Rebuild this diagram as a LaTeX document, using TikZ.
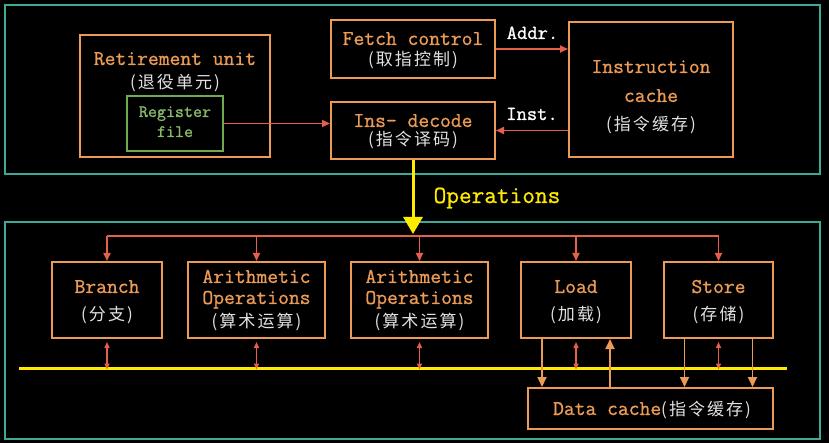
\documentclass[tikz,border=0pt]{standalone}
\usepackage{fontspec}
\newfontfamily\cjkf{Noto Sans CJK SC}[LetterSpace=12]
\usetikzlibrary{arrows.meta}
\definecolor{tealc}{RGB}{60,170,150}
\definecolor{orng}{RGB}{235,155,85}
\definecolor{redc}{RGB}{230,95,75}
\definecolor{yelc}{RGB}{255,235,0}
\definecolor{grnc}{RGB}{110,170,80}
\definecolor{grnt}{RGB}{135,185,105}
\definecolor{zhc}{RGB}{225,225,225}
\newcommand\heavytxt[1]{\special{pdf:literal direct 2 Tr 0.22 w}#1\special{pdf:literal direct 0 Tr}}
\begin{document}
\begin{tikzpicture}[x=1pt,y=-1pt,
  box/.style={draw=orng, line width=2pt, inner sep=0pt, rectangle},
  gbox/.style={draw=grnc, line width=2pt, inner sep=0pt, rectangle},
  frame/.style={draw=tealc, line width=2pt, inner sep=0pt, rectangle},
  en/.style={font=\ttfamily\fontsize{21}{24}\selectfont, text=orng, inner sep=0pt, anchor=base},
  gen/.style={font=\ttfamily\fontsize{17.5}{20}\selectfont, text=grnt, inner sep=0pt, anchor=base},
  wen/.style={font=\ttfamily\fontsize{20}{24}\selectfont, text=white, inner sep=0pt, anchor=base},
  zh/.style={font=\cjkf\fontsize{17}{20}\selectfont, text=zhc, inner sep=0pt, anchor=center},
  rarr/.style={draw=redc, line width=1.8pt, -{Triangle[length=8pt,width=7pt]}},
  darr/.style={draw=redc, line width=1.4pt, {Triangle[length=6pt,width=5pt]}-{Triangle[length=6pt,width=5pt]}},
  oarr/.style={draw=orng, line width=1.8pt, -{Triangle[length=10pt,width=9pt]}},
]
\fill[black] (0,0) rectangle (829,443);
\useasboundingbox (0,0) rectangle (829,443);

% frames
\node[frame, minimum width=815pt, minimum height=169pt] (top) at (412.5,89.5) {};
\node[frame, minimum width=815pt, minimum height=217pt] (bot) at (412.5,330.5) {};

% top boxes
\node[box, minimum width=190pt, minimum height=122pt] (ret) at (175,96) {};
\node[gbox, minimum width=96pt, minimum height=55pt] (reg) at (175,123.5) {};
\node[box, minimum width=164pt, minimum height=58pt] (fetch) at (413,49) {};
\node[box, minimum width=164pt, minimum height=57pt] (dec) at (413,130.5) {};
\node[box, minimum width=164pt, minimum height=135pt] (icache) at (651,89.5) {};

\node[en] (t-ret) at (175,65) {\heavytxt{Retirement unit}};
\node[zh] (z-ret) at (175,83) {(退役单元)};
\node[gen] (t-reg1) at (175,117) {\heavytxt{Register}};
\node[gen] (t-reg2) at (175,137) {\heavytxt{file}};
\node[en] (t-fetch) at (413,45) {\heavytxt{Fetch control}};
\node[zh] (z-fetch) at (413,60) {(取指控制)};
\node[en] (t-dec) at (413,127) {\heavytxt{Ins- decode}};
\node[zh] (z-dec) at (413,140) {(指令译码)};
\node[en] (t-ic1) at (651,73) {\heavytxt{Instruction}};
\node[en] (t-ic2) at (651,102) {\heavytxt{cache}};
\node[zh] (z-ic) at (651,125) {(指令缓存)};

\node[wen] (addr) at (532.5,39) {\heavytxt{Addr.}};
\node[wen] (inst) at (532,120) {\heavytxt{Inst.}};

\draw[rarr] (reg.east) -- (reg.east -| dec.west);
\draw[rarr] (fetch.east) -- (fetch.east -| icache.west);
\draw[rarr] (dec.east -| icache.west) -- (dec.east);

% operations arrow
\coordinate (opsend) at (413,234);
\draw[draw=yelc, line width=3pt, -{Triangle[length=17pt,width=19pt]}] (dec.south) -- (opsend);
\node[font=\ttfamily\fontsize{24.6}{28}\selectfont, text=yelc, inner sep=0pt, anchor=base] (ops) at (497,203) {\heavytxt{Operations}};

% bottom boxes
\node[box, minimum width=110pt, minimum height=76pt] (branch) at (107,300) {};
\node[box, minimum width=137pt, minimum height=76pt] (ar1) at (256.5,300) {};
\node[box, minimum width=137pt, minimum height=76pt] (ar2) at (419.5,300) {};
\node[box, minimum width=110pt, minimum height=76pt] (load) at (576,300) {};
\node[box, minimum width=109pt, minimum height=76pt] (store) at (718.5,300) {};
\node[box, minimum width=245pt, minimum height=41pt] (dcache) at (650.5,408.5) {};

\node[en] (t-br) at (107,293) {\heavytxt{Branch}};
\node[zh] (z-br) at (107,315) {(分支)};
\node[en] (t-a1a) at (256.5,283) {\heavytxt{Arithmetic}};
\node[en] (t-a1b) at (256.5,304) {\heavytxt{Operations}};
\node[zh] (z-a1) at (256.5,322) {(算术运算)};
\node[en] (t-a2a) at (419.5,283) {\heavytxt{Arithmetic}};
\node[en] (t-a2b) at (419.5,304) {\heavytxt{Operations}};
\node[zh] (z-a2) at (419.5,322) {(算术运算)};
\node[en] (t-ld) at (576,293) {\heavytxt{Load}};
\node[zh] (z-ld) at (576,315) {(加载)};
\node[en] (t-st) at (718.5,293) {\heavytxt{Store}};
\node[zh] (z-st) at (718.5,315) {(存储)};
\node[en] (t-dc) at (652,415) {\heavytxt{Data cache}{\cjkf\fontsize{17}{20}\selectfont\color{zhc}(指令缓存)}};

% distribution line
\coordinate (dist) at (413,236);
\draw[draw=redc, line width=1.8pt] (branch.north |- dist) -- (store.north |- dist);
\foreach \b in {branch,ar1,ar2,load,store}{
  \draw[rarr] (\b.north |- dist) -- (\b.north);
}

% bus
\coordinate (busL) at (19,368);
\coordinate (busR) at (787,368);
\draw[draw=yelc, line width=3pt] (busL) -- (busR);
\foreach \b in {branch,ar1,ar2,load,store}{
  \draw[darr] ([yshift=-3pt]\b.south) -- ([yshift=-1.5pt]\b.south |- busL);
}

% data cache arrows
\draw[oarr] ([xshift=-34pt]load.south) -- ([xshift=-34pt]load.south |- dcache.north);
\draw[oarr] ([xshift=34pt]load.south |- dcache.north) -- ([xshift=34pt]load.south);
\draw[oarr] ([xshift=-34pt]store.south) -- ([xshift=-34pt]store.south |- dcache.north);
\draw[oarr] ([xshift=34pt]store.south) -- ([xshift=34pt]store.south |- dcache.north);
\end{tikzpicture}
\end{document}
